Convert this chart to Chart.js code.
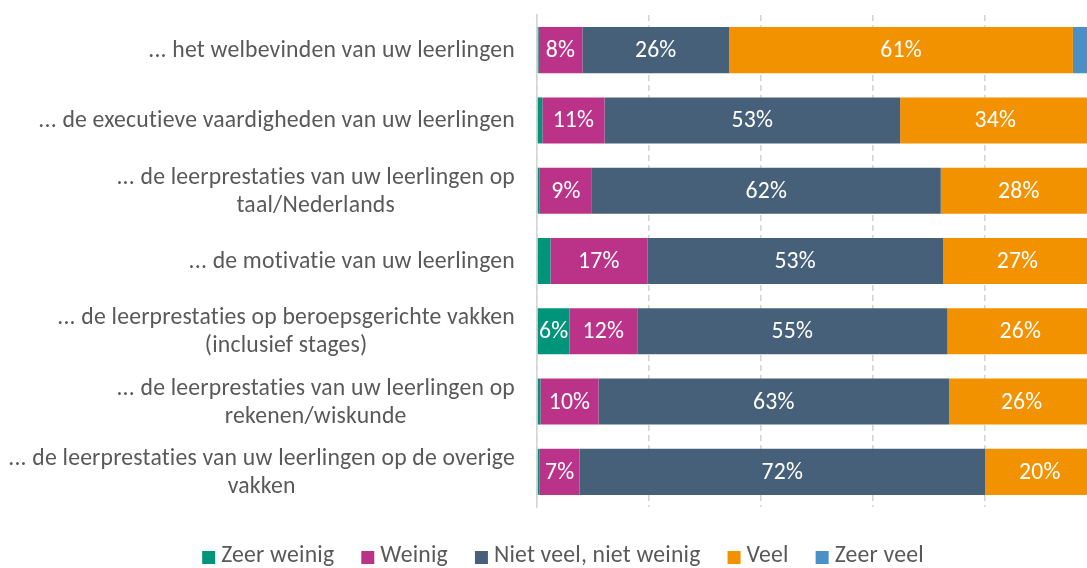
<!DOCTYPE html>
<html>
<head>
<meta charset="utf-8">
<script src="https://cdn.jsdelivr.net/npm/chart.js@4.4.0/dist/chart.umd.min.js"></script>
<style>
html,body{margin:0;padding:0;overflow:hidden;background:#fff}
#wrap{position:relative;width:1126px;height:568px}
</style>
</head>
<body>
<div id="wrap"><canvas id="c"></canvas></div>
<script>
const categories=[
    ["... het welbevinden van uw leerlingen"],
    ["... de executieve vaardigheden van uw leerlingen"],
    ["... de leerprestaties van uw leerlingen op","taal/Nederlands"],
    ["... de motivatie van uw leerlingen"],
    ["... de leerprestaties op beroepsgerichte vakken","(inclusief stages)"],
    ["... de leerprestaties van uw leerlingen op","rekenen/wiskunde"],
    ["... de leerprestaties van uw leerlingen op de overige","vakken"]
];
const seriesNames=["Zeer weinig","Weinig","Niet veel, niet weinig","Veel","Zeer veel"];
const zeerWeinig=[0.3,0.95,0.5,2.4,5.8,0.6,0.5];
const weinig=[7.8,11.1,9.3,17.3,12.1,10.4,7.1];
const nietVeel=[26.2,52.8,62.3,52.8,55.4,62.6,72.4];
const veel=[61.4,34,27.9,26.6,26,25.9,19.6];
const zeerVeel=[4.3,1.15,0,0.9,0.7,0.5,0.4];
const colors=["#00957a","#bb3389","#46607a","#f29200","#4a8fc6"];

const FONT='Carlito, Calibri, Lato, "Open Sans", sans-serif';
const TXT="#595959";

// size the substitute font so that the labels keep about the original width
function fitSize(ctx){
    ctx.save();
    ctx.font="100px "+FONT;
    const w=ctx.measureText(categories[1][0]).width;
    ctx.restore();
    return Math.round(100*468/w*10)/10;
}

const drawPlugin={
    id:"drawPlugin",
    afterDraw(chart){
        const ctx=chart.ctx;
        const area=chart.chartArea;
        const fs=fitSize(ctx);
        ctx.save();
        ctx.font=fs+"px "+FONT;
        ctx.letterSpacing="0.2px";
        ctx.textBaseline="middle";
        ctx.textAlign="center";

        // value labels
        ctx.fillStyle="#fff";
        chart.data.datasets.forEach((ds,di)=>{
            chart.getDatasetMeta(di).data.forEach((bar,i)=>{
                const v=ds.data[i];
                if(v<5)return;
                ctx.fillText(Math.round(v)+"%",(bar.x+bar.base)/2,bar.y+1);
            });
        });

        // category labels, right aligned block, lines centered
        ctx.fillStyle=TXT;
        const ys=chart.scales.y;
        categories.forEach((lines,i)=>{
            const cy=ys.getPixelForTick(i);
            const w=Math.max(...lines.map(l=>ctx.measureText(l).width));
            const cx=area.left-22-w/2;
            lines.forEach((l,k)=>ctx.fillText(l,cx,cy+1+(k-(lines.length-1)/2)*28));
        });

        // legend
        const box=13,gapIn=6,gapOut=27;
        const widths=seriesNames.map(n=>ctx.measureText(n).width);
        let total=0;
        widths.forEach((w,i)=>{total+=box+gapIn+w+(i<widths.length-1?gapOut:0)});
        let x=chart.width/2-total/2;
        const ly=555;
        ctx.textAlign="left";
        seriesNames.forEach((n,i)=>{
            ctx.fillStyle=colors[i];
            ctx.fillRect(x,ly-4,box,box);
            ctx.fillStyle=TXT;
            ctx.fillText(n,x+box+gapIn,ly+1);
            x+=box+gapIn+widths[i]+gapOut;
        });
        ctx.restore();
    }
};

const seriesData=[zeerWeinig,weinig,nietVeel,veel,zeerVeel];

new Chart(document.getElementById("c"),{
    type:"bar",
    data:{
        labels:categories,
        datasets:seriesNames.map((n,i)=>({
            label:n,
            data:seriesData[i],
            backgroundColor:colors[i],
            borderWidth:0,
            categoryPercentage:1,
            barPercentage:0.655
        }))
    },
    options:{
        indexAxis:"y",
        responsive:true,
        maintainAspectRatio:false,
        animation:false,
        layout:{padding:{left:537,right:29,top:15,bottom:61}},
        plugins:{legend:{display:false},tooltip:{enabled:false}},
        scales:{
            x:{
                stacked:true,min:0,max:100,
                ticks:{display:false,stepSize:20},
                grid:{color:"#d4d4d4",lineWidth:1.5,drawTicks:false},
                border:{display:false,dash:[6,4]}
            },
            y:{
                stacked:true,
                ticks:{display:false},
                grid:{display:false,drawTicks:false},
                border:{display:true,color:"#d4d4d4",width:1.5}
            }
        }
    },
    plugins:[drawPlugin]
});
</script>
</body>
</html>
